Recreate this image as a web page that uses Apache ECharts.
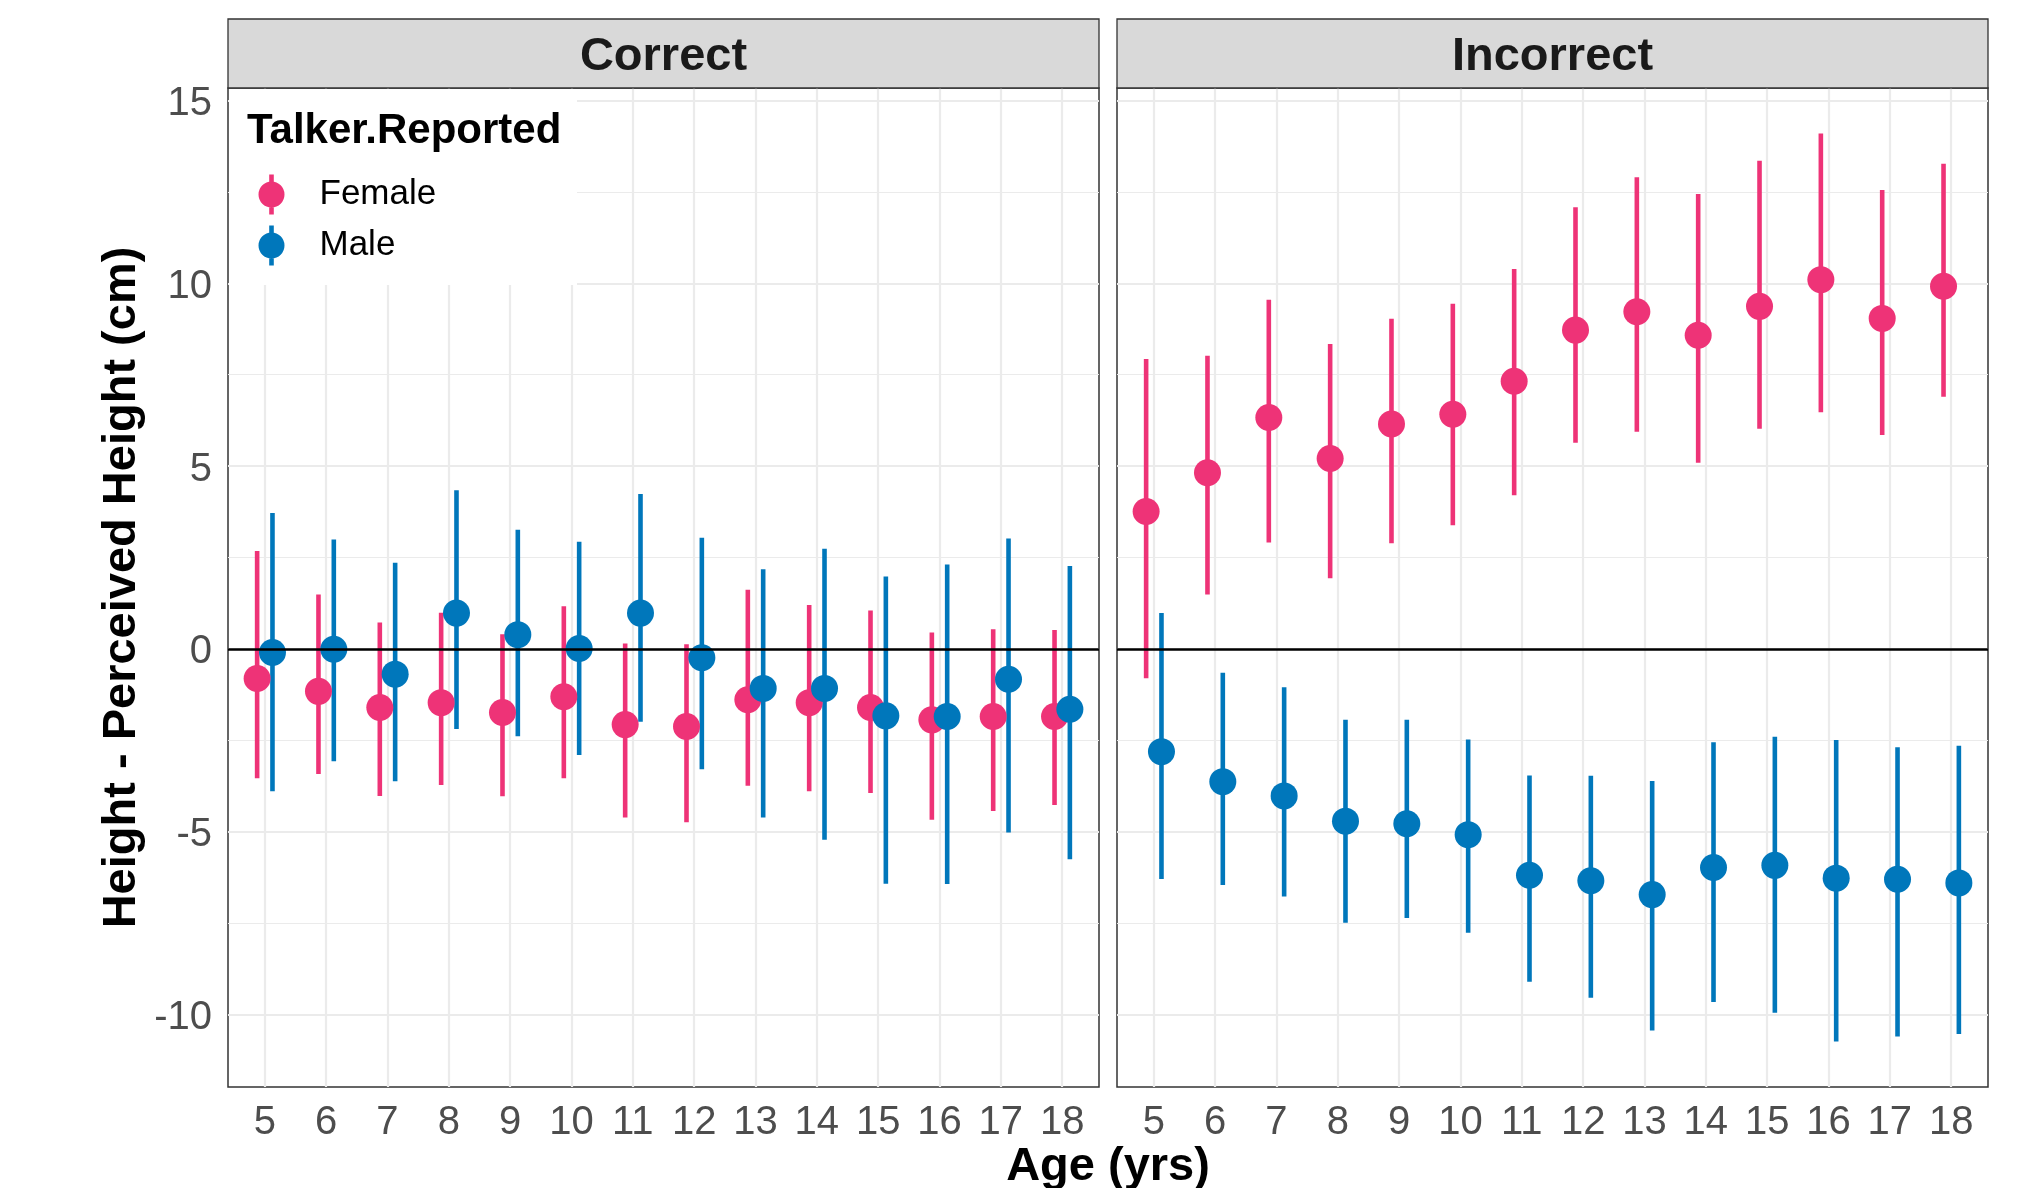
<!DOCTYPE html>
<html><head><meta charset="utf-8">
<script src="https://cdn.jsdelivr.net/npm/echarts@6/dist/echarts.min.js"></script>
<style>html,body{margin:0;padding:0;background:#fff}#c{width:2027px;height:1188px}</style>
</head><body><div id="c"></div>
<script>
// ---------- data ----------
const ages = [5, 6, 7, 8, 9, 10, 11, 12, 13, 14, 15, 16, 17, 18];
const panels = ['Correct', 'Incorrect'];
const groups = ['Female', 'Male'];

const correctFemaleMean = [-0.81, -1.16, -1.60, -1.47, -1.74, -1.31, -2.07, -2.12, -1.39, -1.47, -1.60, -1.94, -1.85, -1.85];
const correctFemaleLow  = [-3.54, -3.42, -4.02, -3.72, -4.03, -3.54, -4.61, -4.74, -3.74, -3.89, -3.94, -4.67, -4.43, -4.27];
const correctFemaleHigh = [2.68, 1.49, 0.72, 0.99, 0.40, 1.17, 0.15, 0.13, 1.62, 1.20, 1.05, 0.45, 0.54, 0.52];

const correctMaleMean = [-0.10, -0.01, -0.69, 0.98, 0.39, 0.01, 0.98, -0.24, -1.08, -1.08, -1.83, -1.85, -0.83, -1.65];
const correctMaleLow  = [-3.89, -3.07, -3.62, -2.19, -2.39, -2.90, -1.99, -3.29, -4.61, -5.22, -6.42, -6.43, -5.02, -5.75];
const correctMaleHigh = [3.72, 2.99, 2.36, 4.34, 3.26, 2.93, 4.24, 3.04, 2.18, 2.74, 1.98, 2.31, 3.02, 2.27];

const incorrectFemaleMean = [3.76, 4.82, 6.33, 5.21, 6.15, 6.42, 7.32, 8.72, 9.22, 8.58, 9.37, 10.10, 9.04, 9.92];
const incorrectFemaleLow  = [-0.80, 1.49, 2.91, 1.93, 2.89, 3.38, 4.20, 5.64, 5.94, 5.09, 6.02, 6.47, 5.85, 6.90];
const incorrectFemaleHigh = [7.93, 8.02, 9.55, 8.34, 9.03, 9.44, 10.39, 12.08, 12.90, 12.44, 13.35, 14.10, 12.55, 13.27];

const incorrectMaleMean = [-2.81, -3.63, -4.02, -4.71, -4.78, -5.08, -6.19, -6.34, -6.72, -5.98, -5.92, -6.27, -6.30, -6.40];
const incorrectMaleLow  = [-6.29, -6.46, -6.77, -7.49, -7.36, -7.76, -9.10, -9.54, -10.44, -9.66, -9.95, -10.74, -10.60, -10.53];
const incorrectMaleHigh = [0.98, -0.65, -1.05, -1.94, -1.94, -2.48, -3.46, -3.47, -3.61, -2.55, -2.40, -2.49, -2.69, -2.65];

const yMajorTicks = [-10, -5, 0, 5, 10, 15];
const yMinorTicks = [-7.5, -2.5, 2.5, 7.5, 12.5];

// ---------- styling ----------
const FONT = '"Liberation Sans", Arial, Helvetica, sans-serif';
const COLORS = { Female: '#EE3377', Male: '#0077BB' };
const DODGE = { Female: -0.125, Male: 0.125 };
const GRID_COLOR = '#EBEBEB';

const panelData = {
  Correct: {
    Female: [correctFemaleMean, correctFemaleLow, correctFemaleHigh],
    Male: [correctMaleMean, correctMaleLow, correctMaleHigh]
  },
  Incorrect: {
    Female: [incorrectFemaleMean, incorrectFemaleLow, incorrectFemaleHigh],
    Male: [incorrectMaleMean, incorrectMaleLow, incorrectMaleHigh]
  }
};

// y range like ggplot: data range expanded by 5%
const allVals = [].concat(
  correctFemaleLow, correctFemaleHigh, correctMaleLow, correctMaleHigh,
  incorrectFemaleLow, incorrectFemaleHigh, incorrectMaleLow, incorrectMaleHigh);
const dMin = Math.min(...allVals), dMax = Math.max(...allVals);
const pad = (dMax - dMin) * 0.05;
const yMin = dMin - pad, yMax = dMax + pad;
const xMin = ages[0] - 0.6, xMax = ages[ages.length - 1] + 0.6;

const gridBoxes = [
  { left: 228, top: 88, width: 871, height: 999 },
  { left: 1117, top: 88, width: 871, height: 999 }
];

const grid = gridBoxes.map(b => ({
  left: b.left, top: b.top, width: b.width, height: b.height,
  show: true, borderColor: '#333333', borderWidth: 1.5, backgroundColor: 'transparent'
}));

const xAxis = gridBoxes.map((b, gi) => ({
  gridIndex: gi, type: 'value', min: xMin, max: xMax,
  axisLine: { show: false },
  axisTick: { show: false, customValues: ages },
  axisLabel: { customValues: ages, fontSize: 40, color: '#4D4D4D', fontFamily: FONT, margin: 15.5 },
  splitLine: { show: true, lineStyle: { color: GRID_COLOR, width: 2.2 } }
}));

const yAxis = [];
gridBoxes.forEach((b, gi) => {
  yAxis.push({
    gridIndex: gi, type: 'value', min: yMin, max: yMax,
    axisLine: { show: false },
    axisTick: { show: false, customValues: yMajorTicks },
    axisLabel: {
      show: gi === 0, customValues: yMajorTicks, margin: 16,
      formatter: v => '{v|' + v + '}',
      rich: { v: { fontSize: 40, color: '#4D4D4D', fontFamily: FONT, padding: [7, 0, 0, 0] } }
    },
    splitLine: { show: true, lineStyle: { color: GRID_COLOR, width: 2.2 } }
  });
  yAxis.push({
    gridIndex: gi, type: 'value', min: yMin, max: yMax, position: 'left',
    axisLine: { show: false },
    axisTick: { show: false, customValues: yMinorTicks },
    axisLabel: { show: false, customValues: yMinorTicks },
    splitLine: { show: true, lineStyle: { color: GRID_COLOR, width: 1.1 } }
  });
});

const series = [];
panels.forEach((p, gi) => {
  // line ranges first (ggplot draws all ranges, then all points)
  groups.forEach((g, k) => {
    const [mean, low, high] = panelData[p][g];
    const s = {
      name: g, type: 'custom', xAxisIndex: gi, yAxisIndex: gi * 2, silent: true, z: 3,
      itemStyle: { color: COLORS[g] },
      encode: { x: 0, y: [1, 2] },
      data: ages.map((a, i) => [a + DODGE[g], low[i], high[i]]),
      renderItem: (params, api) => {
        const p1 = api.coord([api.value(0), api.value(1)]);
        const p2 = api.coord([api.value(0), api.value(2)]);
        return {
          type: 'line',
          shape: { x1: p1[0], y1: p1[1], x2: p2[0], y2: p2[1] },
          style: { stroke: COLORS[g], lineWidth: 4.6 }
        };
      }
    };
    if (k === 0) {
      s.markLine = {
        silent: true, symbol: 'none', label: { show: false }, animation: false,
        lineStyle: { color: '#000000', width: 2.6, type: 'solid' },
        data: [{ yAxis: 0 }]
      };
    }
    series.push(s);
  });
  groups.forEach(g => {
    const [mean] = panelData[p][g];
    series.push({
      name: g, type: 'scatter', xAxisIndex: gi, yAxisIndex: gi * 2, silent: true, z: 4,
      symbol: 'circle', symbolSize: 27,
      itemStyle: { color: COLORS[g], opacity: 1 },
      data: ages.map((a, i) => [a + DODGE[g], mean[i]])
    });
  });
});

const LEGEND_ICON = 'path://M10.7,0L15.3,0L15.3,40L10.7,40Z M0,20A13,13,0,1,1,26,20A13,13,0,1,1,0,20Z';

const graphic = [
  // legend background (covers grid lines like ggplot's inside legend)
  { type: 'rect', z: 1, shape: { x: 229, y: 89, width: 348, height: 196 }, style: { fill: '#FFFFFF' } },
  { type: 'text', z: 5, x: 247, y: 131.5, style: { text: 'Talker.Reported', fontSize: 42, fontWeight: 'bold', fontFamily: FONT, fill: '#000000', align: 'left', verticalAlign: 'middle' } },
  // axis titles
  { type: 'text', z: 5, x: 122.5, y: 587.5, rotation: Math.PI / 2, style: { text: 'Height - Perceived Height (cm)', fontSize: 47, fontWeight: 'bold', fontFamily: FONT, fill: '#000000', align: 'center', verticalAlign: 'middle' } },
  { type: 'text', z: 5, x: 1108, y: 1167, style: { text: 'Age (yrs)', fontSize: 47, fontWeight: 'bold', fontFamily: FONT, fill: '#000000', align: 'center', verticalAlign: 'middle' } }
];
panels.forEach((p, gi) => {
  const b = gridBoxes[gi];
  graphic.push({ type: 'rect', z: 5, shape: { x: b.left, y: 19, width: b.width, height: b.top - 19 }, style: { fill: '#D9D9D9', stroke: '#333333', lineWidth: 1.3 } });
  graphic.push({ type: 'text', z: 6, x: b.left + b.width / 2, y: 56.6, style: { text: p, fontSize: 47, fontWeight: 'bold', fontFamily: FONT, fill: '#1A1A1A', align: 'center', verticalAlign: 'middle' } });
});

const chart = echarts.init(document.getElementById('c'), null, { renderer: 'canvas' });
chart.setOption({
  animation: false,
  backgroundColor: '#FFFFFF',
  grid, xAxis, yAxis, series, graphic,
  legend: {
    orient: 'vertical', left: 258.5, top: 174.5, itemWidth: 26, itemHeight: 40, itemGap: 11,
    selectedMode: false, padding: 0,
    textStyle: { fontSize: 35, fontFamily: FONT, color: '#000000', padding: [0, 0, 0, 30] },
    data: groups.map(g => ({ name: g, icon: LEGEND_ICON, itemStyle: { color: COLORS[g] } }))
  }
});
</script>
</body></html>
